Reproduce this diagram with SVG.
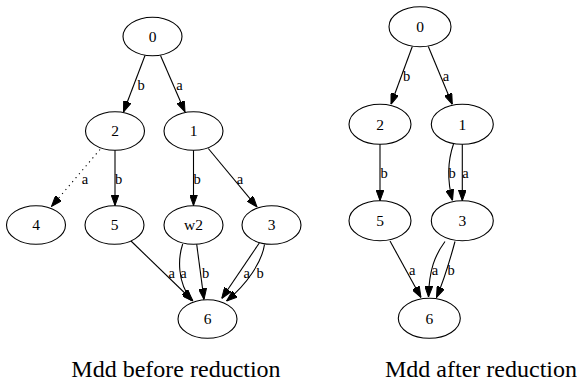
<svg xmlns="http://www.w3.org/2000/svg" width="577" height="381" viewBox="0 0 577 381">
<style>
.n ellipse{fill:none;stroke:#000;stroke-width:1.1}
.n text{font-family:"Liberation Serif","Times New Roman",serif;font-size:15.5px;text-anchor:middle;fill:#000}
.e path{fill:none;stroke:#000;stroke-width:1.1;marker-end:url(#ah)}
.e .dot{stroke-dasharray:1.2,4}
.l{font-family:"Liberation Serif","Times New Roman",serif;font-size:14.5px;text-anchor:middle;fill:#000}
.t{font-family:"Liberation Serif","Times New Roman",serif;font-size:24px;text-anchor:middle;fill:#000}
</style>
<defs>
<marker id="ah" viewBox="0 0 11 8" refX="11" refY="4" markerWidth="11" markerHeight="8" markerUnits="userSpaceOnUse" orient="auto">
<path d="M0,0 L11,4 L0,8 z" fill="#000" stroke="#000" stroke-width="1"/>
</marker>
</defs>
<rect width="577" height="381" fill="#fff"/>
<g id="connectors" class="e">
<path d="M145,55.5 L123.5,112"/>
<path d="M160.5,55.5 L185,112"/>
<path class="dot" d="M100,149.5 L51.5,206.5"/>
<path d="M115,150.3 L115,205.5"/>
<path d="M193.5,150.3 L193.5,205.5"/>
<path d="M208.3,148.5 L257,207"/>
<path d="M131,241 L193,301"/>
<path d="M182.7,244 C178,258 177,282 191.5,300.5"/>
<path d="M196.7,244.3 L204,299.5"/>
<path d="M259.3,243 L221.7,298.5"/>
<path d="M264.5,244.5 C262,262 247,284 226.5,301"/>
<path d="M412.3,46.5 L391,104.3"/>
<path d="M428.3,46.5 L452.3,104.3"/>
<path d="M380,144.3 L380,200.7"/>
<path d="M453.5,144 C448,160 447,180 452.5,200.5"/>
<path d="M462.3,144.3 L462.3,200.7"/>
<path d="M390,241 L421,297.5"/>
<path d="M445,241.5 C435,255 429,270 428.5,297"/>
<path d="M455,241.5 C450,260 444,280 436.5,297.5"/>
</g>
<g id="edge-labels">
<text class="l" x="141" y="90">b</text>
<text class="l" x="179.5" y="90">a</text>
<text class="l" x="85" y="184">a</text>
<text class="l" x="118.5" y="184">b</text>
<text class="l" x="197" y="184">b</text>
<text class="l" x="240" y="184">a</text>
<text class="l" x="171.7" y="277.5">a</text>
<text class="l" x="183.5" y="277.5">a</text>
<text class="l" x="205.5" y="277.5">b</text>
<text class="l" x="246.7" y="277.5">a</text>
<text class="l" x="260" y="277.5">b</text>
<text class="l" x="406.7" y="81">b</text>
<text class="l" x="446" y="81">a</text>
<text class="l" x="384" y="177.5">b</text>
<text class="l" x="452" y="177.5">b</text>
<text class="l" x="465.5" y="177.5">a</text>
<text class="l" x="412.3" y="274.5">a</text>
<text class="l" x="435" y="274.5">a</text>
<text class="l" x="451" y="274.5">b</text>
</g>
<g id="L0" class="n"><ellipse cx="152.5" cy="36.5" rx="29.5" ry="19.3"/><text x="152.5" y="41.8">0</text></g>
<g id="L2" class="n"><ellipse cx="115" cy="131" rx="29.5" ry="19.3"/><text x="115" y="136.3">2</text></g>
<g id="L1" class="n"><ellipse cx="193.5" cy="131" rx="29.5" ry="19.3"/><text x="193.5" y="136.3">1</text></g>
<g id="L4" class="n"><ellipse cx="36" cy="225" rx="29.5" ry="19.3"/><text x="36" y="230.3">4</text></g>
<g id="L5" class="n"><ellipse cx="114.5" cy="225" rx="29.5" ry="19.3"/><text x="114.5" y="230.3">5</text></g>
<g id="Lw2" class="n"><ellipse cx="193.5" cy="225" rx="29.5" ry="19.3"/><text x="193.5" y="230.3">w2</text></g>
<g id="L3" class="n"><ellipse cx="271.5" cy="225" rx="29.5" ry="19.3"/><text x="271.5" y="230.3">3</text></g>
<g id="L6" class="n"><ellipse cx="207.5" cy="319" rx="29.5" ry="19.3"/><text x="207.5" y="324.3">6</text></g>
<g id="R0" class="n"><ellipse cx="420" cy="26.7" rx="31" ry="20"/><text x="420" y="32">0</text></g>
<g id="R2" class="n"><ellipse cx="380" cy="124.3" rx="31" ry="20"/><text x="380" y="129.6">2</text></g>
<g id="R1" class="n"><ellipse cx="462.3" cy="124.3" rx="31" ry="20"/><text x="462.3" y="129.6">1</text></g>
<g id="R5" class="n"><ellipse cx="380" cy="220.7" rx="31" ry="20"/><text x="380" y="226">5</text></g>
<g id="R3" class="n"><ellipse cx="462.3" cy="220.7" rx="31" ry="20"/><text x="462.3" y="226">3</text></g>
<g id="R6" class="n"><ellipse cx="429.3" cy="318.3" rx="31" ry="20"/><text x="429.3" y="323.6">6</text></g>
<text class="t" x="176" y="377">Mdd before reduction</text>
<text class="t" x="481" y="377">Mdd after reduction</text>
</svg>
